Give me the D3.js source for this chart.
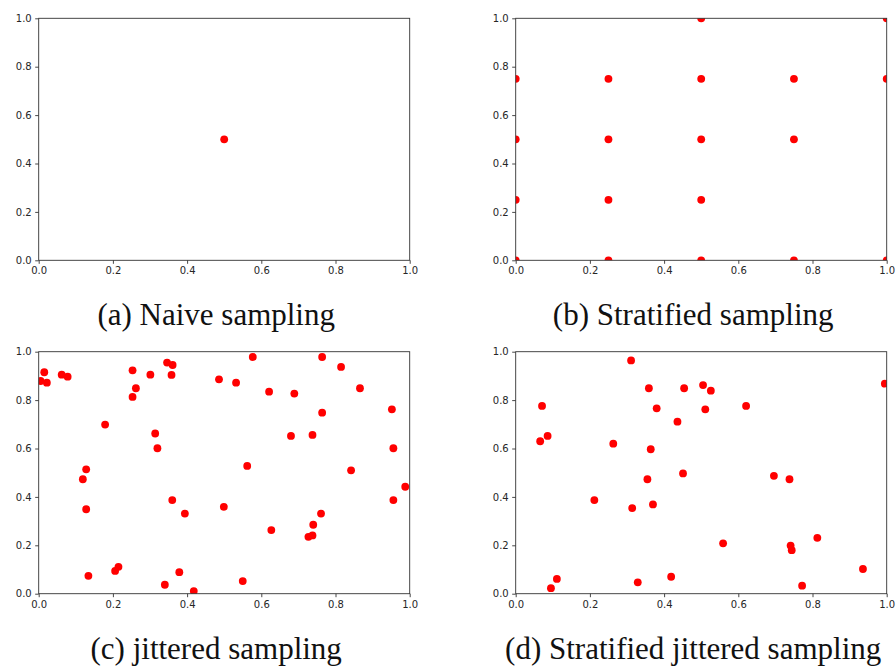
<!DOCTYPE html>
<html>
<head>
<meta charset="utf-8">
<script src="https://cdn.jsdelivr.net/npm/d3@7"></script>
</head>
<body style="margin:0;background:#fff">
<svg id="chart" width="896" height="666" style="display:block"></svg>
<script>
// Sample points for each sampling scheme, in the unit square.
const naiveX = [0.5];
const naiveY = [0.5];

const stratifiedX = [0, 0, 0, 0, 0.25, 0.25, 0.25, 0.25, 0.5, 0.5, 0.5, 0.5, 0.5, 0.75, 0.75, 0.75, 1, 1, 1];
const stratifiedY = [0.75, 0.5, 0.25, 0, 0.75, 0.5, 0.25, 0, 1, 0.75, 0.5, 0.25, 0, 0.75, 0.5, 0, 1, 0.75, 0];

const jitteredX = [0.005, 0.015, 0.022, 0.062, 0.078, 0.253, 0.262, 0.253, 0.179, 0.301,
                   0.346, 0.361, 0.358, 0.314, 0.320, 0.128, 0.119, 0.128, 0.134, 0.206,
                   0.215, 0.340, 0.379, 0.418, 0.360, 0.394, 0.486, 0.532, 0.577, 0.499,
                   0.562, 0.550, 0.621, 0.689, 0.627, 0.680, 0.738, 0.764, 0.764, 0.815,
                   0.866, 0.842, 0.761, 0.740, 0.727, 0.738, 0.952, 0.956, 0.956, 0.988];
const jitteredY = [0.879, 0.915, 0.872, 0.905, 0.897, 0.923, 0.849, 0.813, 0.699, 0.905,
                   0.955, 0.945, 0.904, 0.662, 0.601, 0.514, 0.473, 0.349, 0.074, 0.094,
                   0.111, 0.037, 0.089, 0.011, 0.387, 0.331, 0.886, 0.872, 0.978, 0.359,
                   0.528, 0.052, 0.835, 0.827, 0.263, 0.652, 0.656, 0.978, 0.748, 0.937,
                   0.849, 0.510, 0.331, 0.285, 0.235, 0.241, 0.762, 0.601, 0.387, 0.442];

const stratJitX = [0.311, 0.359, 0.454, 0.505, 0.526, 0.511, 0.380, 0.436, 0.621, 0.995,
                   0.071, 0.086, 0.066, 0.263, 0.364, 0.355, 0.451, 0.212, 0.314, 0.370,
                   0.696, 0.738, 0.559, 0.741, 0.744, 0.813, 0.936, 0.772, 0.419, 0.329,
                   0.111, 0.095];
const stratJitY = [0.964, 0.849, 0.849, 0.862, 0.839, 0.762, 0.766, 0.711, 0.776, 0.868,
                   0.776, 0.652, 0.630, 0.620, 0.597, 0.473, 0.497, 0.387, 0.354, 0.369,
                   0.487, 0.473, 0.208, 0.199, 0.180, 0.231, 0.102, 0.033, 0.070, 0.047,
                   0.061, 0.023];

const tickValues = [0, 0.2, 0.4, 0.6, 0.8, 1.0];

const captions = ["(a) Naive sampling", "(b) Stratified sampling",
                  "(c) jittered sampling", "(d) Stratified jittered sampling"];

const panelData = [
  [naiveX, naiveY],
  [stratifiedX, stratifiedY],
  [jitteredX, jitteredY],
  [stratJitX, stratJitY]
];

// Panel geometry
const plotW = 371, plotH = 242;
const panelOrigins = [[38.7, 18.3], [515.7, 18.3], [38.7, 351.7], [515.7, 351.7]];
const captionOffsetX = 177.5, captionOffsetY = 307;

const svg = d3.select("#chart");

panelData.forEach(([xs, ys], i) => {
  const [ox, oy] = panelOrigins[i];
  const g = svg.append("g").attr("transform", `translate(${ox},${oy})`);

  const x = d3.scaleLinear().domain([0, 1]).range([0, plotW]);
  const y = d3.scaleLinear().domain([0, 1]).range([plotH, 0]);

  const clipId = "clip" + i;
  g.append("clipPath").attr("id", clipId)
    .append("rect").attr("x", 0).attr("y", 0).attr("width", plotW).attr("height", plotH);

  const pts = xs.map((v, k) => [v, ys[k]]);
  g.append("g").attr("clip-path", `url(#${clipId})`)
    .selectAll("circle").data(pts).join("circle")
    .attr("cx", d => x(d[0]))
    .attr("cy", d => y(d[1]))
    .attr("r", 3.9)
    .attr("fill", "#ff0000");

  const fmt = d3.format(".1f");
  const xAxis = g.append("g").attr("transform", `translate(0,${plotH})`)
    .call(d3.axisBottom(x).tickValues(tickValues).tickFormat(fmt).tickSize(3.5).tickPadding(3.5));
  const yAxis = g.append("g")
    .call(d3.axisLeft(y).tickValues(tickValues).tickFormat(fmt).tickSize(3.5).tickPadding(3.5));
  [xAxis, yAxis].forEach(a => {
    a.attr("font-family", "DejaVu Sans").attr("font-size", 10);
    a.select(".domain").remove();
    a.selectAll(".tick line").attr("stroke", "#333").attr("stroke-width", 0.9);
    a.selectAll(".tick text").attr("fill", "#262626");
  });

  // Frame around the plotting area
  g.append("rect")
    .attr("x", 0).attr("y", 0).attr("width", plotW).attr("height", plotH)
    .attr("fill", "none").attr("stroke", "#333").attr("stroke-width", 0.9);

  svg.append("text")
    .attr("x", ox + captionOffsetX)
    .attr("y", oy + captionOffsetY)
    .attr("text-anchor", "middle")
    .attr("font-family", "Liberation Serif")
    .attr("font-size", 31)
    .attr("fill", "#111")
    .text(captions[i]);
});
</script>
</body>
</html>
